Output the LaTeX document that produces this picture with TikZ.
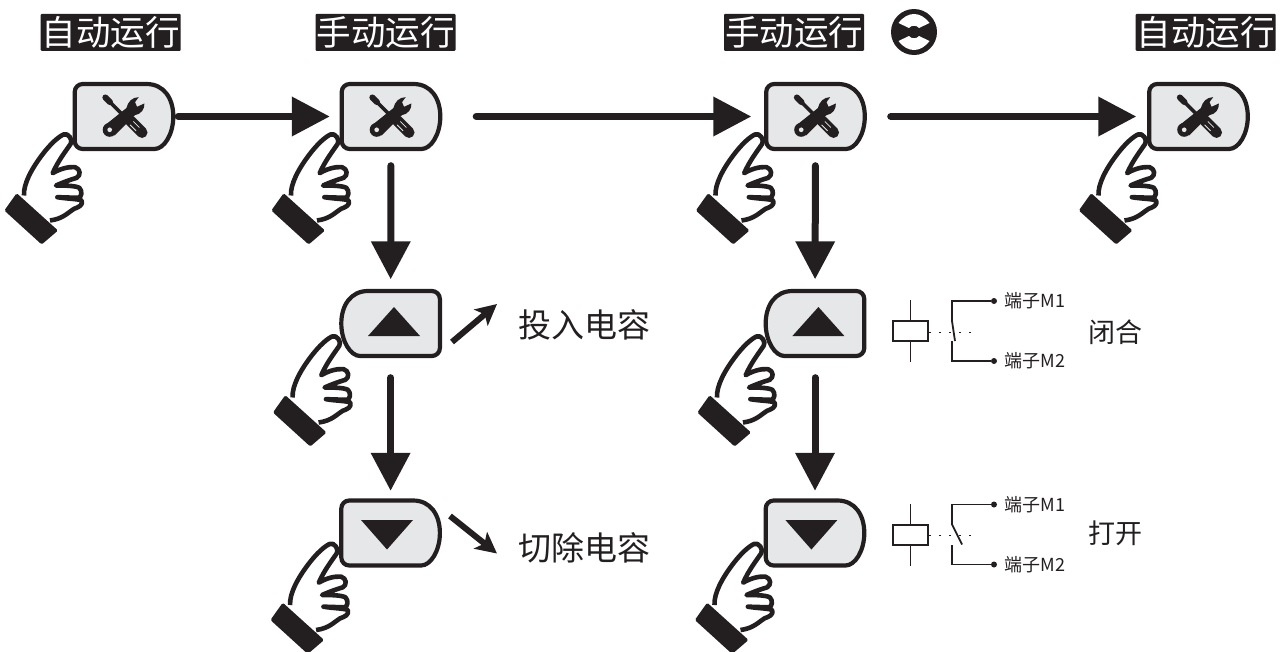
\documentclass[tikz,border=0pt]{standalone}
\usepackage{fontspec}
\setmainfont{Noto Sans CJK SC}
\usetikzlibrary{arrows.meta,calc}
\definecolor{inkblack}{HTML}{231F20}
\definecolor{btngray}{HTML}{E6E7E8}
\tikzset{
  btnbox/.style={minimum width=102pt, minimum height=68pt, inner sep=0pt},
  btnline/.style={draw=inkblack, fill=btngray, line width=4.2pt},
  flow/.style={-{Triangle[length=38pt,width=38pt]}, draw=inkblack, line width=7pt, line cap=round},
  slant/.style={-{Stealth[length=21pt,width=21pt,inset=5pt]}, draw=inkblack, line width=6pt},
  mode/.style={fill=inkblack, text=white, rounded corners=1pt, minimum width=140pt, minimum height=37pt, inner sep=0pt, font=\fontsize{34.5pt}{34.5pt}\selectfont},
  action/.style={text=inkblack, inner sep=0pt, font=\fontsize{33pt}{33pt}\selectfont},
  state/.style={text=inkblack, inner sep=0pt, font=\fontsize{27pt}{27pt}\selectfont},
  termlabel/.style={text=inkblack, inner sep=0pt, font=\fontsize{18pt}{18pt}\selectfont},
  termdot/.style={circle, fill=inkblack, inner sep=0pt, minimum size=6pt},
  coil/.style={draw=inkblack, line width=2pt, minimum width=35pt, minimum height=20pt, inner sep=0pt},
  wire/.style={draw=inkblack, line width=1.8pt},
  dots/.style={draw=inkblack, line width=1pt, dash pattern=on 2pt off 8pt},
  fingers/.pic={
    \begin{scope}[shift={(-124,-56)}, scale=1/3]
      \draw [fill=white, draw=inkblack, line width=4.6pt, line join=round]
        (72,405) .. controls (70,370) and (95,325) .. (125,285)
        .. controls (140,265) and (165,235) .. (190,222)
        .. controls (205,215) and (220,240) .. (212,250)
        .. controls (195,275) and (175,300) .. (158,338)
        .. controls (180,325) and (205,318) .. (225,320)
        .. controls (242,325) and (243,345) .. (230,352)
        .. controls (210,358) and (190,365) .. (168,375)
        .. controls (190,375) and (225,375) .. (238,382)
        .. controls (248,392) and (245,410) .. (235,412)
        -- (172,410)
        .. controls (200,415) and (235,415) .. (245,420)
        .. controls (250,435) and (235,440) .. (222,445)
        .. controls (205,455) and (190,475) .. (150,480);
      \fill [inkblack, rounded corners=1.5pt] (50,398) -- (174,510) -- (125,552) -- (13,450) -- cycle;
    \end{scope}
  },
  dface/.pic={
    \path [btnline, rounded corners=8pt] (22.5,-32.5) -- (-49.3,-32.5) -- (-49.3,32.5) -- (22.5,32.5)
      [sharp corners] .. controls (40,32.5) and (49.3,18) .. (49.3,0)
      .. controls (49.3,-18) and (40,-32.5) .. (22.5,-32.5) -- cycle;
  },
  toolicon/.pic={
    \begin{scope}[shift={(-29.3,-31.7)}, scale=1/3]
      \draw [inkblack, line width=3.6pt] (30,36) -- (90,96);
      \draw [inkblack, line width=6pt, line cap=round] (32,38) -- (46,52);
      \draw [inkblack, line width=11pt, line cap=round] (107,108) -- (142,143);
      \draw [btngray, line width=.8pt] (106,120) -- (124,138) (116,110) -- (134,128);
      \fill [inkblack] (95,70) .. controls (100,50) and (112,38) .. (132,37)
        -- (121,52) -- (127,66) -- (149,56)
        .. controls (150,72) and (140,88) .. (121,91)
        -- (60,152) -- (30,122) -- cycle;
      \fill [inkblack] (45,135) circle [radius=21];
      \fill [btngray] (45,135) circle [radius=7];
    \end{scope}
  },
  lockwheel/.pic={
    \fill [inkblack] (0,0) circle [radius=23];
    \fill [white] (-15.5,-9) .. controls (-11,-15) and (-5.5,-18) .. (0,-18)
      .. controls (5.5,-18) and (11,-15) .. (15.5,-9) -- (5,-4)
      .. controls (3,-7) and (-3,-7) .. (-5,-4) -- cycle;
    \fill [white] (-15.5,9) .. controls (-11,15) and (-5.5,18) .. (0,18)
      .. controls (5.5,18) and (11,15) .. (15.5,9) -- (5,4)
      .. controls (3,7) and (-3,7) .. (-5,4) -- cycle;
  },
}
\begin{document}
\begin{tikzpicture}[x=1pt, y=-1pt]
\useasboundingbox (0,0) rectangle (1288,651);

\foreach \m/\x/\t in {1/110.7/自动运行, 2/385.5/手动运行, 3/794/手动运行, 4/1205.7/自动运行}
  \node [mode] (mode-\m) at (\x,32.4) {\t};
\pic (wheel) at (914,32) {lockwheel};

\foreach \m/\x in {1/124, 2/391, 3/815.5, 4/1198.5} {
  \node [btnbox] (tool-\m) at (\x,116.5) {};
  \pic at (tool-\m) {dface};
  \pic at (tool-\m) {toolicon};
  \pic at (tool-\m) {fingers};
}

\foreach \m/\x in {1/390.6, 2/815} {
  \node [btnbox] (up-\m) at (\x,323.5) {};
  \node [btnbox] (down-\m) at (\x,533) {};
  \pic [xscale=-1] at (up-\m) {dface};
  \pic at (down-\m) {dface};
  \fill [inkblack] ($(up-\m)+(3.4,-16.5)$) -- ($(up-\m)+(29.4,12.5)$) -- ($(up-\m)+(-22.6,12.5)$) -- cycle;
  \fill [inkblack] ($(down-\m)+(-3.6,16.5)$) -- ($(down-\m)+(22.4,-13)$) -- ($(down-\m)+(-29.6,-13)$) -- cycle;
  \pic at ($(up-\m)+(2,-5)$) {fingers};
  \pic at ($(down-\m)+(-.5,-7)$) {fingers};
}

\foreach \a/\b/\s/\e in {tool-1/tool-2/3/10, tool-2/tool-3/34/13, tool-3/tool-4/24/11,
  tool-2/up-1/15/10, up-1/down-1/20/8, tool-3/up-2/15/10, up-2/down-2/20/8}
  \draw [flow, shorten <=\s pt, shorten >=\e pt] (\a) -- (\b);

\node [action] (insert) at (584,325) {投入电容};
\node [action] (remove) at (584,548) {切除电容};
\coordinate (insert-from) at (452,342);
\coordinate (insert-to) at (497,304);
\coordinate (remove-from) at (450,516);
\coordinate (remove-to) at (497,553.5);
\draw [slant] (insert-from) -- (insert-to);
\draw [slant] (remove-from) -- (remove-to);

\foreach \m/\y in {closed/331, open/534.5} {
  \node [coil] (coil-\m) at (910.5,\y) {};
  \draw [wire] (coil-\m.north) -- ++(0,-20);
  \draw [wire] (coil-\m.south) -- ++(0,20);
  \node [termdot] (term-\m-1) at (994,\y-30) {};
  \node [termdot] (term-\m-2) at (994,\y+30) {};
  \node [termlabel] (label-\m-1) at (1035,\y-30) {端子M1};
  \node [termlabel] (label-\m-2) at (1035,\y+30) {端子M2};
  \coordinate (hinge-\m-1) at (952,\y-10);
  \coordinate (hinge-\m-2) at (952,\y+10);
  \coordinate (dots-\m) at (977,\y+1);
  \draw [dots] (coil-\m.east |- dots-\m) -- (dots-\m);
  \draw [wire] (term-\m-1) -| (hinge-\m-1);
  \draw [wire] (term-\m-2) -| (hinge-\m-2);
}
\draw [wire] (hinge-closed-1) -- ++(3,20);
\draw [wire] (hinge-open-1) -- ++(10,20);

\node [state] (shut) at (1115,332) {闭合};
\node [state] (apart) at (1115,533) {打开};

\end{tikzpicture}
\end{document}
